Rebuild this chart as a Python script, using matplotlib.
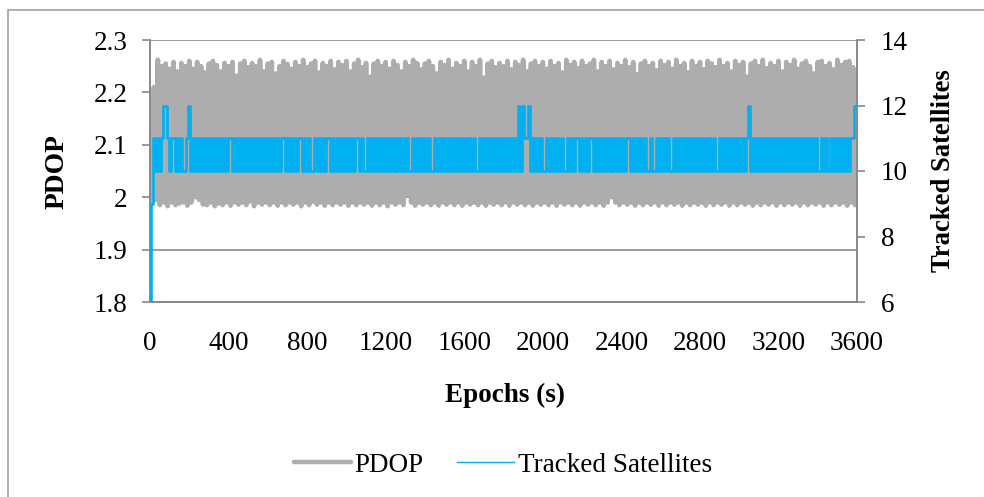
import numpy as np
import matplotlib
matplotlib.use("Agg")
import matplotlib.pyplot as plt
from matplotlib.patches import Rectangle
from matplotlib.lines import Line2D

plt.rcParams['font.family'] = ['Liberation Serif', 'DejaVu Serif']

# epochs every 10 s
epochs = np.arange(0, 3601, 10)

pdop = [
    2.19, 1.99, 2.21, 1.995, 2.262, 1.985, 2.25, 1.99, 2.255, 1.983, 2.245, 1.99, 2.258, 1.985, 2.24, 1.988, 2.256, 1.99, 2.25, 1.984,
    2.26, 1.99, 2.245, 2.0, 2.258, 1.995, 2.25, 1.986, 2.238, 1.985, 2.255, 1.99, 2.26, 1.983, 2.252, 1.988, 2.24, 1.985, 2.256, 1.99,
    2.25, 1.984, 2.258, 1.99, 2.232, 1.986, 2.255, 1.99, 2.26, 1.985, 2.248, 1.992, 2.256, 1.983, 2.25, 1.99, 2.262, 1.986, 2.24, 1.99,
    2.255, 1.985, 2.258, 1.99, 2.236, 1.984, 2.25, 1.99, 2.26, 1.985, 2.254, 1.99, 2.245, 1.986, 2.258, 1.99, 2.25, 1.983, 2.262, 1.99,
    2.248, 1.985, 2.255, 1.992, 2.26, 1.986, 2.238, 1.99, 2.256, 1.984, 2.25, 1.99, 2.26, 1.985, 2.244, 1.99, 2.258, 1.986, 2.252, 1.99,
    2.26, 1.984, 2.24, 1.99, 2.255, 1.985, 2.262, 1.99, 2.248, 1.986, 2.256, 1.99, 2.23, 1.984, 2.255, 1.99, 2.26, 1.985, 2.25, 1.99,
    2.258, 1.983, 2.245, 1.99, 2.26, 1.986, 2.252, 1.99, 2.24, 1.985, 2.258, 2.005, 2.25, 1.99, 2.262, 1.984, 2.256, 1.99, 2.244, 1.986,
    2.255, 1.99, 2.26, 1.985, 2.25, 1.99, 2.236, 1.984, 2.258, 1.99, 2.252, 1.986, 2.262, 1.99, 2.245, 1.985, 2.256, 1.99, 2.25, 1.984,
    2.26, 1.99, 2.24, 1.986, 2.258, 1.99, 2.25, 1.985, 2.262, 1.99, 2.228, 1.984, 2.255, 1.99, 2.26, 1.986, 2.248, 1.99, 2.256, 1.985,
    2.25, 1.99, 2.26, 1.984, 2.244, 1.99, 2.258, 1.986, 2.252, 1.99, 2.262, 1.985, 2.24, 1.99, 2.255, 1.984, 2.26, 1.99, 2.25, 1.986,
    2.258, 1.99, 2.245, 1.985, 2.26, 1.99, 2.25, 1.984, 2.256, 1.99, 2.238, 1.986, 2.262, 1.99, 2.252, 1.985, 2.258, 1.99, 2.246, 1.984,
    2.26, 1.99, 2.25, 1.986, 2.255, 1.99, 2.262, 1.985, 2.24, 1.99, 2.258, 1.984, 2.25, 1.99, 2.26, 2.0, 2.244, 1.99, 2.256, 1.985,
    2.25, 1.99, 2.262, 1.986, 2.248, 1.99, 2.258, 1.984, 2.235, 1.99, 2.255, 1.985, 2.26, 1.99, 2.25, 1.986, 2.256, 1.99, 2.242, 1.984,
    2.26, 1.99, 2.252, 1.985, 2.258, 1.99, 2.245, 1.986, 2.262, 1.99, 2.25, 1.984, 2.256, 1.99, 2.238, 1.985, 2.26, 1.99, 2.25, 1.986,
    2.258, 1.99, 2.244, 1.984, 2.26, 1.99, 2.255, 1.985, 2.248, 1.99, 2.262, 1.986, 2.25, 1.99, 2.256, 1.984, 2.24, 1.99, 2.26, 1.985,
    2.252, 1.99, 2.258, 1.986, 2.23, 1.99, 2.255, 1.984, 2.26, 1.99, 2.25, 1.985, 2.262, 1.99, 2.246, 1.986, 2.256, 1.99, 2.25, 1.984,
    2.26, 1.99, 2.24, 1.985, 2.258, 1.99, 2.252, 1.986, 2.262, 1.99, 2.245, 1.984, 2.255, 1.99, 2.26, 1.985, 2.25, 1.99, 2.236, 1.986,
    2.258, 1.99, 2.26, 1.984, 2.25, 1.99, 2.256, 1.985, 2.244, 1.99, 2.262, 1.986, 2.252, 1.99, 2.258, 1.984, 2.26, 1.99, 2.248, 1.985,
    2.24,
]

sats = [
    6, 9, 11, 10, 11, 10, 11, 12, 12, 11, 10, 11, 11, 10, 11, 10, 11, 10, 10, 11,
    12, 10, 11, 10, 11, 10, 11, 10, 11, 10, 11, 10, 11, 10, 11, 10, 11, 10, 11, 10,
    11, 11, 10, 11, 10, 11, 10, 11, 10, 11, 10, 11, 10, 11, 10, 11, 10, 11, 10, 11,
    10, 11, 10, 11, 10, 11, 10, 11, 11, 10, 11, 10, 11, 10, 11, 10, 11, 11, 10, 11,
    10, 11, 10, 10, 11, 10, 11, 10, 11, 10, 11, 11, 10, 11, 10, 11, 10, 11, 10, 11,
    10, 11, 10, 11, 10, 11, 11, 10, 11, 10, 10, 11, 10, 11, 10, 11, 10, 11, 10, 11,
    10, 11, 10, 11, 10, 11, 10, 11, 10, 11, 10, 11, 10, 10, 11, 10, 11, 10, 11, 10,
    11, 10, 11, 10, 10, 11, 10, 11, 10, 11, 10, 11, 10, 11, 10, 11, 10, 11, 10, 11,
    10, 11, 10, 11, 10, 11, 10, 10, 11, 10, 11, 10, 11, 10, 11, 10, 11, 10, 11, 10,
    11, 10, 11, 10, 11, 10, 11, 10, 12, 10, 12, 11, 11, 12, 10, 11, 10, 11, 10, 11,
    10, 10, 11, 10, 11, 10, 11, 10, 11, 10, 11, 10, 10, 11, 10, 11, 10, 11, 11, 10,
    11, 10, 11, 10, 11, 11, 10, 11, 10, 11, 10, 11, 10, 11, 10, 11, 10, 11, 10, 11,
    10, 11, 10, 11, 11, 10, 11, 10, 11, 10, 11, 10, 11, 10, 10, 11, 10, 10, 11, 10,
    11, 10, 11, 10, 11, 10, 10, 11, 10, 11, 10, 11, 10, 11, 10, 11, 10, 11, 10, 11,
    10, 11, 10, 11, 10, 11, 10, 11, 10, 10, 11, 10, 11, 10, 11, 10, 11, 10, 11, 10,
    11, 10, 11, 10, 11, 12, 10, 11, 10, 11, 10, 11, 10, 11, 10, 11, 10, 11, 10, 11,
    10, 11, 10, 11, 10, 11, 10, 11, 10, 11, 10, 11, 10, 11, 10, 11, 10, 11, 10, 11,
    10, 10, 11, 10, 11, 10, 10, 11, 10, 11, 10, 11, 10, 11, 10, 11, 10, 11, 11, 12,
    12,
]

x_ticks = [0, 400, 800, 1200, 1600, 2000, 2400, 2800, 3200, 3600]
pdop_ticks = [1.8, 1.9, 2.0, 2.1, 2.2, 2.3]
pdop_labels = ['1.8', '1.9', '2', '2.1', '2.2', '2.3']
sat_ticks = [6, 8, 10, 12, 14]

W, H = 984, 497
fig = plt.figure(figsize=(W / 100, H / 100), dpi=100)
axis_grey = '#898989'
pdop_col = '#ADADAD'
sat_col = '#00B0F0'

ax = fig.add_axes([150 / W, 1 - 302 / H, (857 - 150) / W, (302 - 40) / H])
ax2 = ax.twinx()

ax.plot(epochs, pdop, color=pdop_col, lw=3.4, solid_joinstyle='round',
        solid_capstyle='round', zorder=2)
ax2.plot(epochs, sats, color=sat_col, lw=1.9, drawstyle='steps-mid', zorder=3)

ax.set_xlim(0, 3600)
ax.set_ylim(1.8, 2.3)
ax2.set_ylim(6, 14)
ax.set_xticks(x_ticks)
ax.set_yticks(pdop_ticks)
ax.set_yticklabels(pdop_labels)
ax2.set_yticks(sat_ticks)

ax.yaxis.grid(True, color=axis_grey, lw=1.2)
ax.set_axisbelow(True)

for a in (ax, ax2):
    for s in a.spines.values():
        s.set_color(axis_grey)
        s.set_linewidth(1.2)
    a.spines['top'].set_visible(False)
    a.tick_params(labelsize=19.5, colors='black', width=1.2, length=5.8)
    a.tick_params(axis='y', color=axis_grey)
ax.tick_params(axis='x', length=0, pad=21)
ax.tick_params(axis='y', pad=10.5)
ax2.tick_params(axis='y', pad=11.5)

fig.text(57 / W, 1 - 172 / H, 'PDOP', rotation=90, ha='center', va='center',
         fontsize=19.8, fontweight='bold')
fig.text(944 / W, 1 - 171 / H, 'Tracked Satellites', rotation=90, ha='center',
         va='center', fontsize=19.2, fontweight='bold')
fig.text(505 / W, 1 - 395 / H, 'Epochs (s)', ha='center', va='center',
         fontsize=19.5, fontweight='bold')

handles = [Line2D([], [], color=pdop_col, lw=3.2, solid_capstyle='round'),
           Line2D([], [], color=sat_col, lw=1.0)]
fig.legend(handles=handles, labels=['PDOP', 'Tracked Satellites'], loc='center',
           bbox_to_anchor=(503 / W, 1 - 465 / H), ncol=2, frameon=False,
           fontsize=19.5, handlelength=2.1, handletextpad=0.12, columnspacing=1.25)

fig.patches.append(Rectangle((8 / W, -0.05), 1.2, 1 - 10 / H + 0.05,
                             transform=fig.transFigure, fill=False,
                             edgecolor='#A0A0A0', lw=1.2))

fig.savefig('out.png', dpi=100)
